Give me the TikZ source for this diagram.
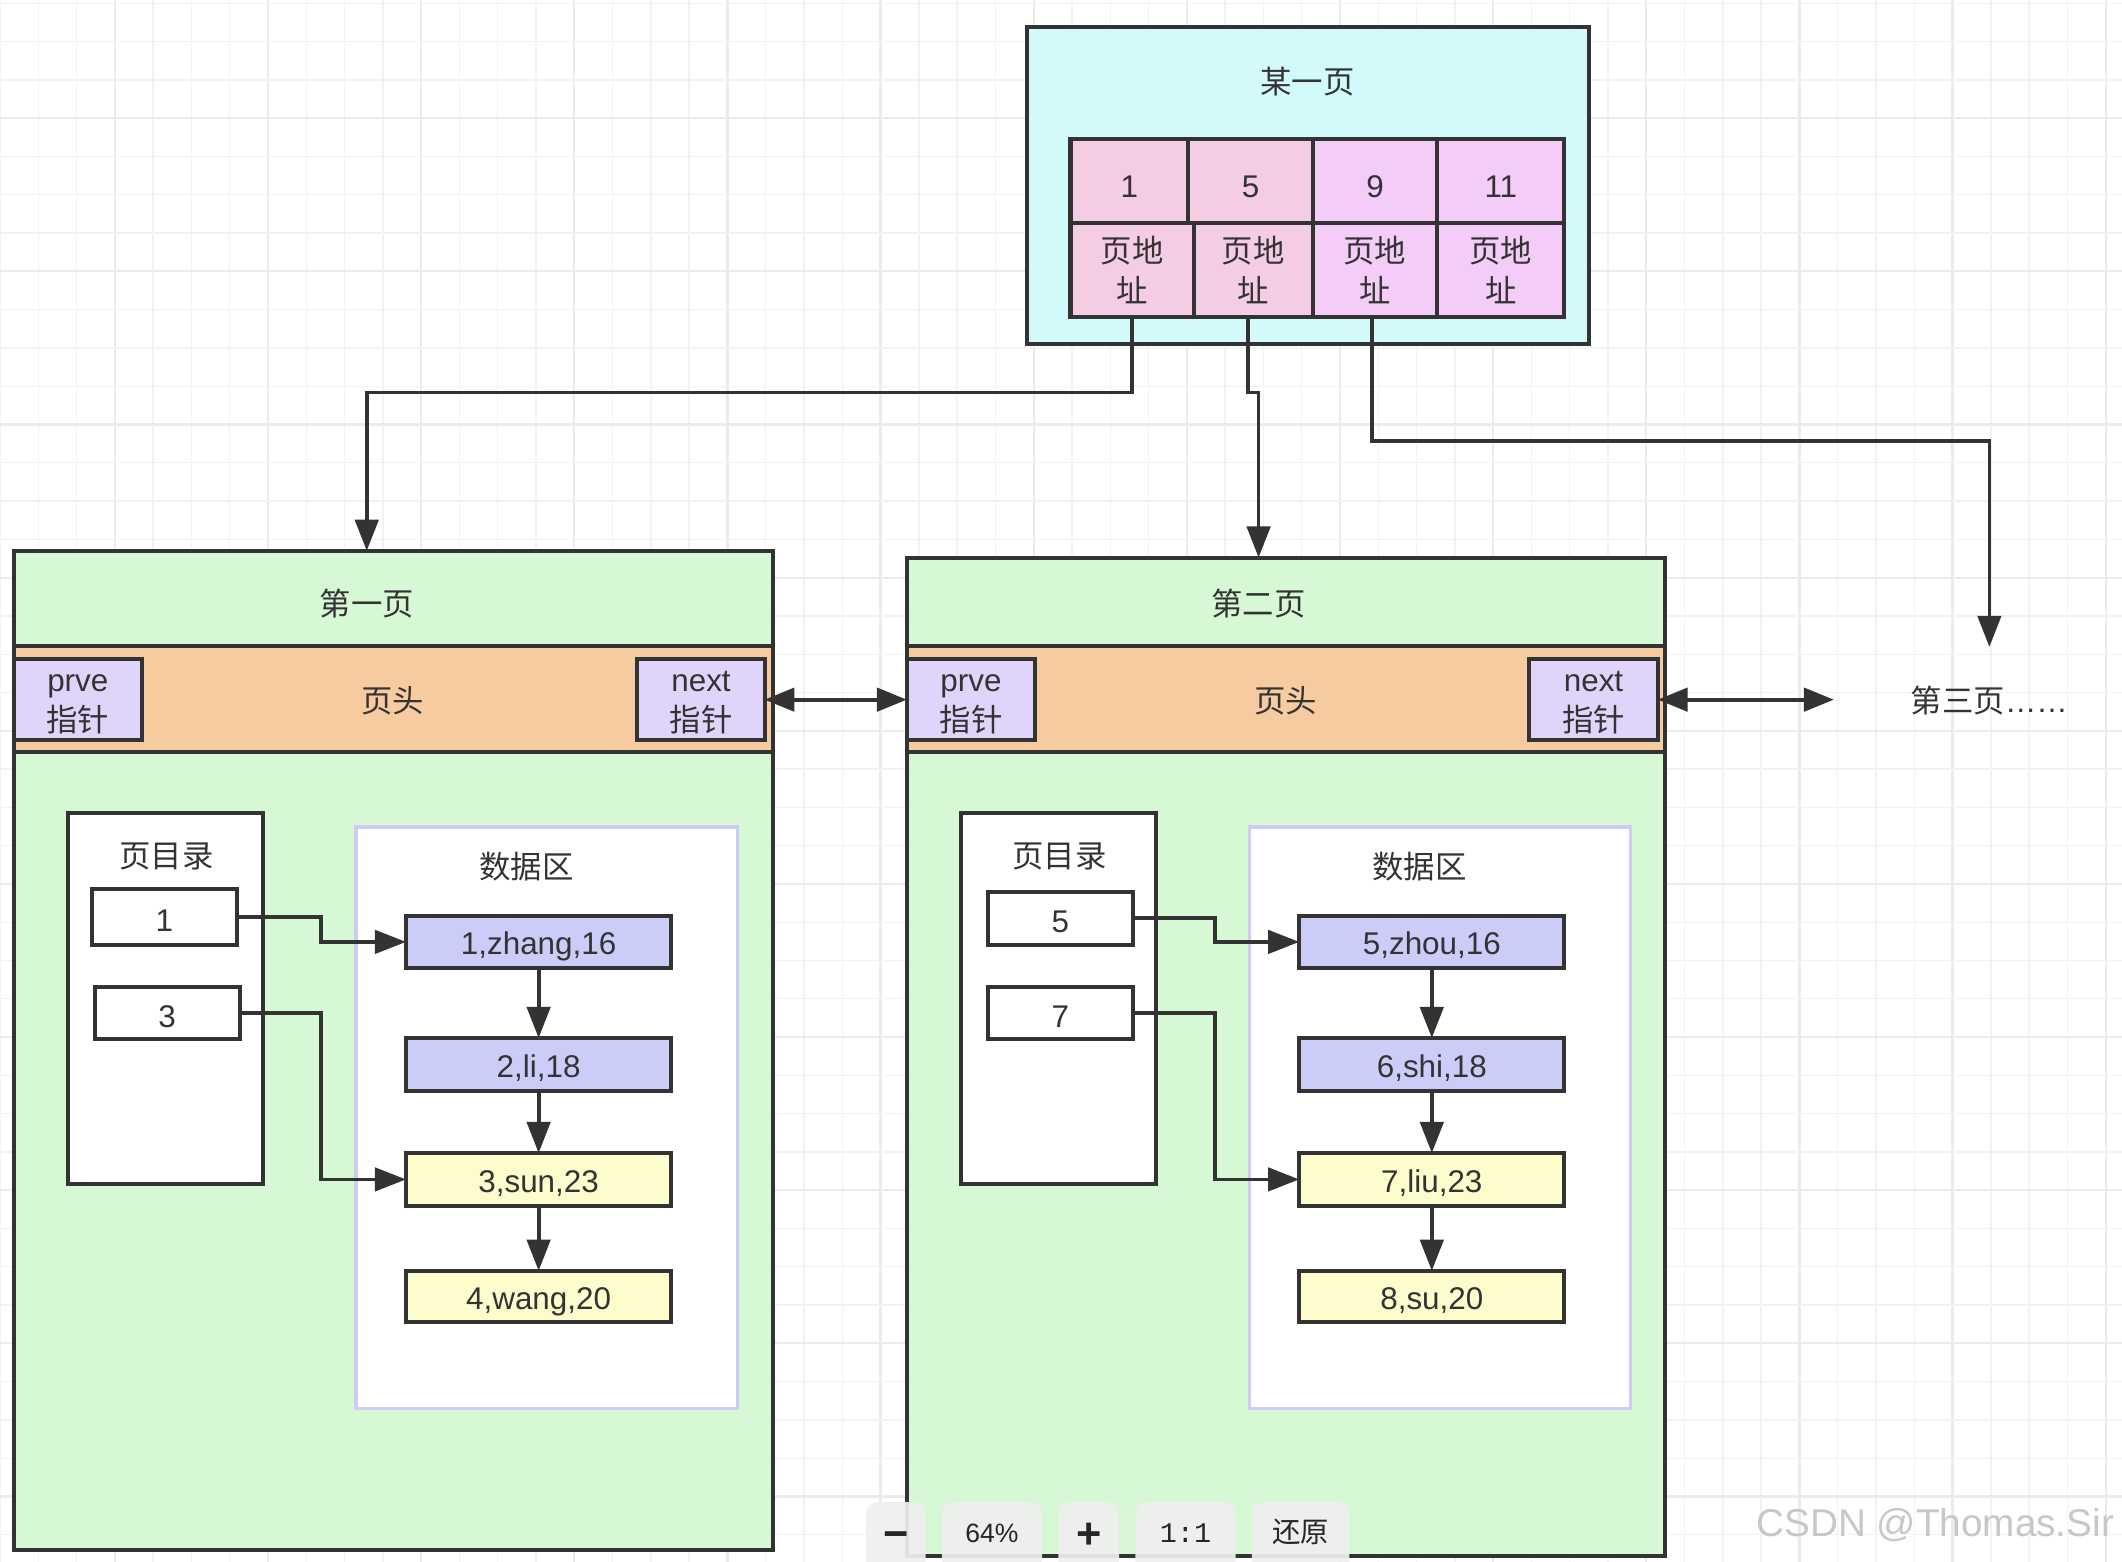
\documentclass[tikz,border=0pt]{standalone}
\usepackage{fontspec}
\setmainfont{Liberation Sans}
\newfontfamily\cjk{Noto Sans CJK SC}
\newfontfamily\lmono{Liberation Mono}
\usetikzlibrary{arrows.meta,calc}
\definecolor{ink}{HTML}{333333}
\definecolor{cyanbg}{HTML}{D2FAFA}
\definecolor{pinkc}{HTML}{F4CCE3}
\definecolor{purpc}{HTML}{F3CDF7}
\definecolor{pgreen}{HTML}{D6F8D4}
\definecolor{peach}{HTML}{F6CBA0}
\definecolor{ptrc}{HTML}{E0D4FA}
\definecolor{recb}{HTML}{CCCCF8}
\definecolor{recy}{HTML}{FCFCCC}
\definecolor{lavline}{HTML}{CCCCF6}
\definecolor{tbfill}{HTML}{EEEFEE}
\newcommand\myfs{\fontsize{11.6}{14.5}\selectfont}
\newcommand\bnode[7][]{\node[#1, minimum width={(#5-#3)*0.5pt}, minimum height={(#6-#4)*0.5pt}] (#2) at ({(#3+#5)/2},{(#4+#6)/2}) {#7};}
\newcommand\dn[2]{\raisebox{-#1}[\height][\depth]{#2}}
\newcommand\twol[2]{\dn{1.5pt}{\begin{tabular}{@{}c@{}}#1\\{\cjk #2}\end{tabular}}}
\tikzset{
  box/.style={draw=ink, line width=1.5pt, inner sep=0pt, outer sep=0pt, text=ink, font=\myfs, align=center},
  lat/.style={text height=#1, text depth=0pt},
  txt/.style={inner sep=0pt, text=ink, font=\myfs\cjk, align=center},
  arr/.style={draw=ink, line width=1.4pt, -{Triangle[length=11.5pt,width=8.6pt]}},
  darr/.style={draw=ink, line width=1.4pt, {Triangle[length=11pt,width=8.6pt]}-{Triangle[length=11pt,width=8.6pt]}},
  gthin/.style={draw=black!5, line width=0.5pt},
  gthick/.style={draw=black!8, line width=0.8pt},
  tb/.style={fill=tbfill, fill opacity=0.93, rounded corners=4pt, inner sep=0pt, outer sep=0pt, text opacity=1, text=black!85},
}
\begin{document}
\begin{tikzpicture}[x=0.5pt,y=-0.5pt]
\useasboundingbox (0,0) rectangle (1568,1154);
\fill[white] (0,0) rectangle (1568,1154);
% grid
\foreach \k in {0,...,55}{
  \pgfmathtruncatemacro\m{mod(\k,4)}
  \ifnum\m=3 \draw[gthick] ({28.29*\k},0) -- ({28.29*\k},1154);
  \else \draw[gthin] ({28.29*\k},0) -- ({28.29*\k},1154); \fi
}
\foreach \k in {0,...,40}{
  \pgfmathtruncatemacro\m{mod(\k,4)}
  \ifnum\m=3 \draw[gthick] (0,{2.5+28.29*\k}) -- (1568,{2.5+28.29*\k});
  \else \draw[gthin] (0,{2.5+28.29*\k}) -- (1568,{2.5+28.29*\k}); \fi
}

% ---------- top index page ----------
\bnode[box, fill=cyanbg]{top}{759}{20}{1174}{254}{}
\node[txt] (ttop) at (966,60) {某一页};
\bnode[box, fill=pinkc, lat=12.3pt]{c1a}{791}{103}{878}{165}{1}
\bnode[box, fill=pinkc, lat=12.3pt]{c2a}{878}{103}{970}{165}{5}
\bnode[box, fill=purpc, lat=12.3pt]{c3a}{970}{103}{1062}{165}{9}
\bnode[box, fill=purpc, lat=12.3pt]{c4a}{1062}{103}{1156}{165}{11}
\bnode[box, fill=pinkc, font=\myfs\cjk]{c1b}{791}{165}{882}{234}{页地\\址}
\bnode[box, fill=pinkc, font=\myfs\cjk]{c2b}{882}{165}{970}{234}{页地\\址}
\bnode[box, fill=purpc, font=\myfs\cjk]{c3b}{970}{165}{1062}{234}{页地\\址}
\bnode[box, fill=purpc, font=\myfs\cjk]{c4b}{1062}{165}{1156}{234}{页地\\址}

% ---------- page 1 ----------
\bnode[box, fill=pgreen]{pg1}{10}{407}{571}{1145}{}
\node[txt] (t1) at (271,446) {第一页};
\bnode[box, fill=peach]{hd1}{10}{477}{571}{556}{}
\node[txt] (h1) at (290,518) {页头};
\bnode[box, fill=ptrc]{pv1}{10}{487}{105}{547}{\twol{prve}{指针}}
\bnode[box, fill=ptrc]{nx1}{471}{487}{565}{547}{\twol{next}{指针}}
\bnode[box, fill=white]{dir1}{50}{601}{194}{875}{}
\node[txt] (dt1) at (123,633) {页目录};
\bnode[box, fill=white, lat=10.8pt]{i1}{68}{657}{175}{698}{1}
\bnode[box, fill=white, lat=10.8pt]{i3}{70}{729}{177}{768}{3}
\bnode[box, draw=lavline, line width=1.2pt, fill=white]{da1}{263}{611}{545}{1041}{}
\node[txt] (dat1) at (389,640) {数据区};
\bnode[box, fill=recb, lat=9.5pt]{r1}{300}{677}{496}{715}{1,zhang,16}
\bnode[box, fill=recb, lat=9.5pt]{r2}{300}{767}{496}{806}{2,li,18}
\bnode[box, fill=recy, lat=9.5pt]{r3}{300}{852}{496}{891}{3,sun,23}
\bnode[box, fill=recy, lat=9.5pt]{r4}{300}{939}{496}{977}{4,wang,20}

% ---------- page 2 ----------
\bnode[box, fill=pgreen]{pg2}{670}{412}{1230}{1150}{}
\node[txt] (t2) at (930,446) {第二页};
\bnode[box, fill=peach]{hd2}{670}{477}{1230}{556}{}
\node[txt] (h2) at (950,518) {页头};
\bnode[box, fill=ptrc]{pv2}{670}{487}{765}{547}{\twol{prve}{指针}}
\bnode[box, fill=ptrc]{nx2}{1130}{487}{1225}{547}{\twol{next}{指针}}
\bnode[box, fill=white]{dir2}{710}{601}{854}{875}{}
\node[txt] (dt2) at (783,633) {页目录};
\bnode[box, fill=white, lat=10.8pt]{i5}{730}{659}{837}{698}{5}
\bnode[box, fill=white, lat=10.8pt]{i7}{730}{729}{837}{768}{7}
\bnode[box, draw=lavline, line width=1.2pt, fill=white]{da2}{923}{611}{1205}{1041}{}
\node[txt] (dat2) at (1049,640) {数据区};
\bnode[box, fill=recb, lat=9.5pt]{r5}{960}{677}{1156}{715}{5,zhou,16}
\bnode[box, fill=recb, lat=9.5pt]{r6}{960}{767}{1156}{806}{6,shi,18}
\bnode[box, fill=recy, lat=9.5pt]{r7}{960}{852}{1156}{891}{7,liu,23}
\bnode[box, fill=recy, lat=9.5pt]{r8}{960}{939}{1156}{977}{8,su,20}

% third page label
\node[txt] (p3t) at (1470,518) {第三页{\fontspec{Liberation Sans}……}};
\coordinate (p3) at (1470,478);
\coordinate (q3) at (1355,517);

% ---------- connectors ----------
\draw[arr] (c1b.south) -- ++(0,56) -| (t1 |- pg1.north);
\draw[arr] ([xshift=-2pt]c2b.south) -- ++(0,56) -| (t2 |- pg2.north);
\draw[arr] ([xshift=-1pt]c3b.south) -- ++(0,92) -| (p3);

\draw[darr] (nx1.east) -- (pg2.west |- nx1.east);
\draw[darr] (nx2.east) -- (q3);

\draw[arr] (i1.east) -- ++(62,0) |- (r1.west);
\draw[arr] (i3.east) -- ++(60,0) |- (r3.west);
\draw[arr] (r1) -- (r2);
\draw[arr] (r2) -- (r3);
\draw[arr] (r3) -- (r4);

\draw[arr] (i5.east) -- ++(61,0) |- (r5.west);
\draw[arr] (i7.east) -- ++(61,0) |- (r7.west);
\draw[arr] (r5) -- (r6);
\draw[arr] (r6) -- (r7);
\draw[arr] (r7) -- (r8);

% ---------- viewer toolbar ----------
\bnode[tb, font=\fontsize{16}{16}\selectfont\bfseries]{tbm}{640}{1110}{684}{1162}{\raisebox{-4pt}[0pt][0pt]{\textminus}}
\bnode[tb, font=\fontsize{9.8}{12}\selectfont]{tbz}{696}{1110}{770}{1162}{\raisebox{-2pt}[0pt][0pt]{64\%}}
\bnode[tb, font=\fontsize{16}{16}\selectfont\bfseries]{tbp}{782}{1110}{827}{1162}{\raisebox{-4pt}[0pt][0pt]{+}}
\bnode[tb, font=\fontsize{10.5}{12}\selectfont\lmono]{tbo}{839}{1110}{913}{1162}{\raisebox{-2pt}[0pt][0pt]{1:1}}
\bnode[tb, font=\fontsize{10.5}{12}\selectfont\cjk]{tbr}{925}{1110}{997}{1162}{\raisebox{-2pt}[0pt][0pt]{还原}}

% watermark
\node[inner sep=0pt, text=black!22, font=\fontsize{14.3}{15}\selectfont] (wm) at (1430,1127) {CSDN @Thomas.Sir};
\end{tikzpicture}
\end{document}
